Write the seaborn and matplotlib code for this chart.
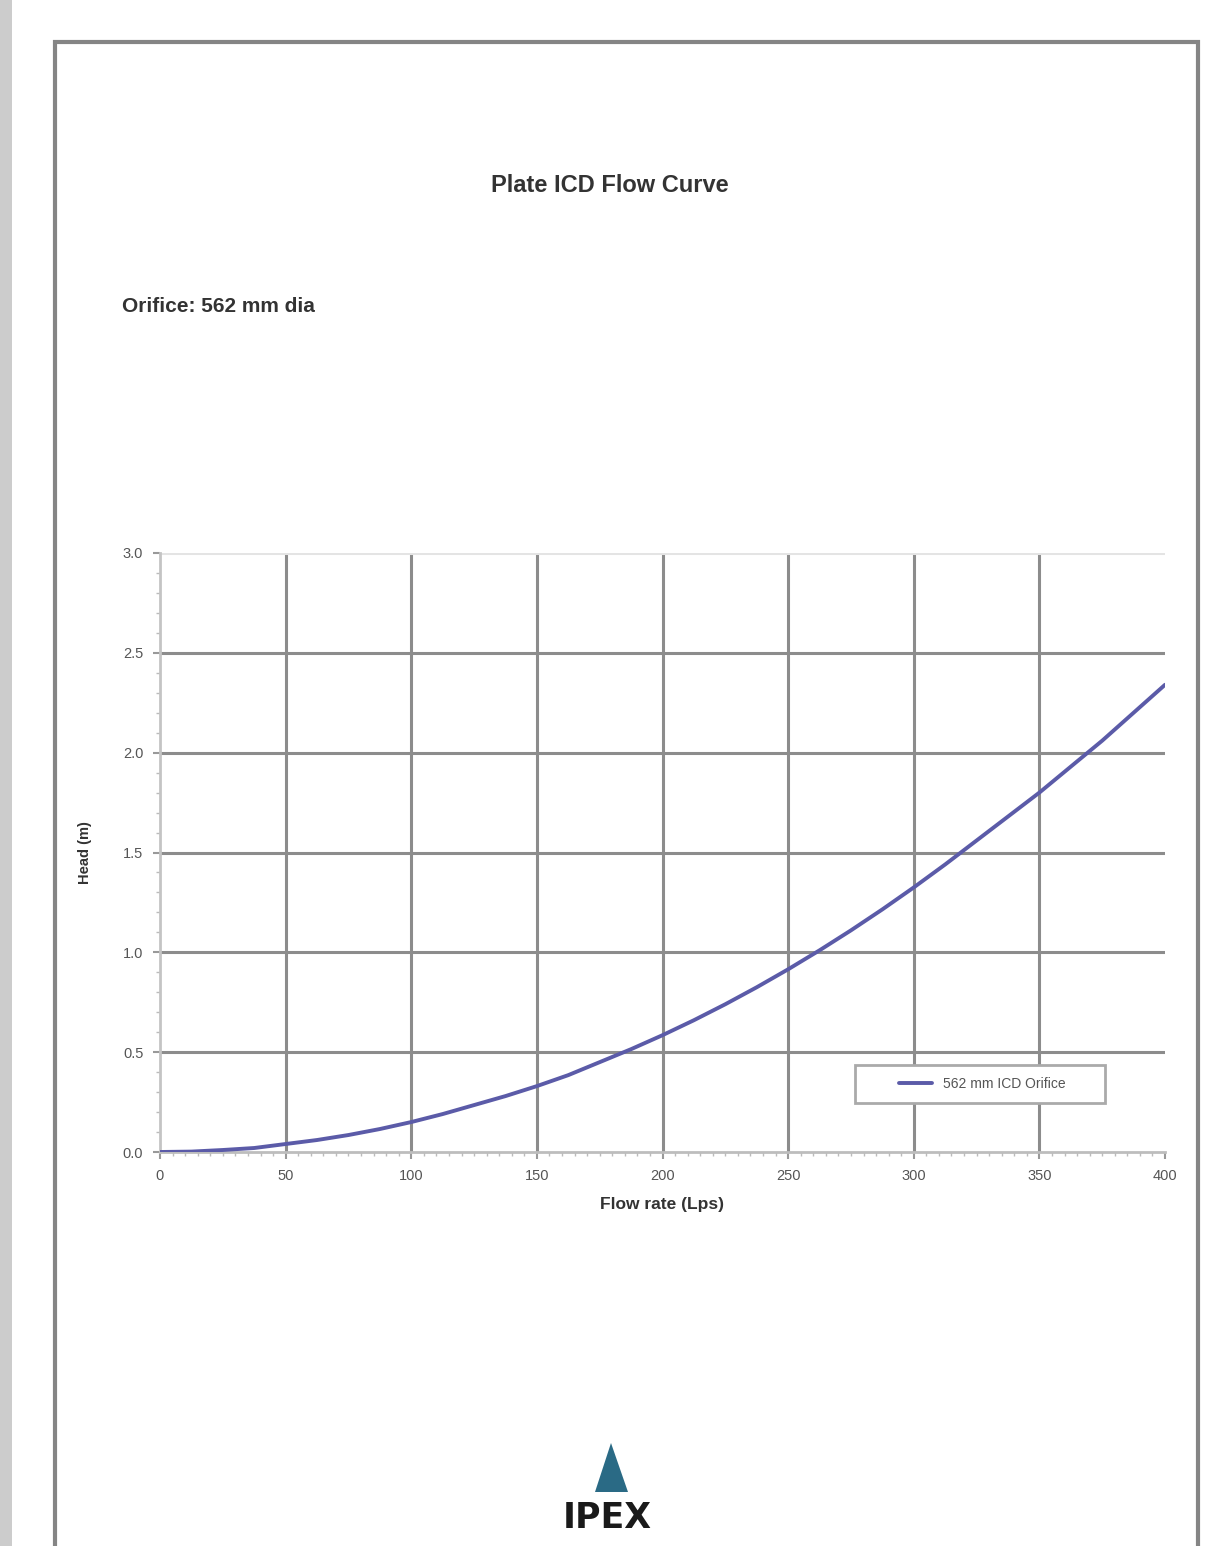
import numpy as np
import pandas as pd
import matplotlib
matplotlib.use('Agg')
import matplotlib.pyplot as plt
import seaborn as sns
from matplotlib.patches import Rectangle, Polygon
from matplotlib.ticker import MultipleLocator

# data
flow_lps = [0, 12.5, 25, 37.5, 50, 62.5, 75, 87.5, 100, 112.5, 125, 137.5, 150, 162.5,
            175, 187.5, 200, 212.5, 225, 237.5, 250, 262.5, 275, 287.5, 300, 312.5,
            325, 337.5, 350, 362.5, 375, 387.5, 400]
head_m = [0.0, 0.002, 0.01, 0.02, 0.04, 0.06, 0.085, 0.115, 0.15, 0.19, 0.235, 0.28, 0.33, 0.385,
          0.45, 0.515, 0.585, 0.66, 0.74, 0.825, 0.915, 1.01, 1.11, 1.215, 1.325, 1.44,
          1.56, 1.68, 1.80, 1.93, 2.06, 2.20, 2.34]
series_name = '562 mm ICD Orifice'
x_ticks = [0, 50, 100, 150, 200, 250, 300, 350, 400]
y_ticks = [0.0, 0.5, 1.0, 1.5, 2.0, 2.5, 3.0]

df = pd.DataFrame({'flow': flow_lps, 'head': head_m, 'series': series_name})

sns.set_theme(style='white')
plt.rcParams['font.family'] = ['Liberation Sans', 'DejaVu Sans']

fig = plt.figure(figsize=(12.1, 15.46), dpi=100)

# page frame and left strip
fig.patches.append(Rectangle((0, 0), 0.010, 1, transform=fig.transFigure,
                             facecolor='#cccccc', edgecolor='none', zorder=0))
fig.patches.append(Rectangle((55 / 1210, -0.01), (1198 - 55) / 1210, 1.01 - 42 / 1546,
                             transform=fig.transFigure, facecolor='none',
                             edgecolor='#858585', lw=3, zorder=0))

ax = fig.add_axes([160 / 1210, 1 - 1152 / 1546, 1005 / 1210, 599 / 1546])
ax.set_facecolor('none')

sns.lineplot(data=df, x='flow', y='head', hue='series', palette=['#5b5ba8'],
             lw=2.8, ax=ax, zorder=3)

ax.set_xlim(0, 400)
ax.set_ylim(0, 3.0)
ax.set_xticks(x_ticks)
ax.set_yticks(y_ticks)
ax.set_xticklabels([str(v) for v in x_ticks])
ax.set_yticklabels([f'{v:.1f}' for v in y_ticks])
ax.xaxis.set_minor_locator(MultipleLocator(5))
ax.yaxis.set_minor_locator(MultipleLocator(0.1))

for v in x_ticks[1:-1]:
    ax.axvline(v, color='#8c8c8c', lw=2.2, zorder=1)
for v in y_ticks[1:]:
    ax.axhline(v, color='#8c8c8c' if v < 3 else '#e4e4e4', lw=2.2, zorder=1)

for s in ['top', 'right']:
    ax.spines[s].set_visible(False)
ax.spines['left'].set_color('#c4c4c4')
ax.spines['left'].set_linewidth(2)
ax.spines['bottom'].set_color('#bdbdbd')
ax.spines['bottom'].set_linewidth(2)

ax.tick_params(axis='both', which='major', direction='out', length=5, width=1.5,
               color='#999999', labelsize=10.5, labelcolor='#555555', pad=7,
               bottom=True, left=True)
ax.tick_params(axis='both', which='minor', direction='out', length=3, width=1,
               color='#bbbbbb', bottom=True, left=True)

ax.set_xlabel('Flow rate (Lps)', fontsize=12.5, fontweight='bold', color='#333333', labelpad=10)
ax.set_ylabel('Head (m)', fontsize=10.5, fontweight='bold', color='#333333', labelpad=22)

# legend box drawn separately so the entry sits centred in a wide frame
ax.add_patch(Rectangle((0.692, 0.082), 0.248, 0.063, transform=ax.transAxes,
                       facecolor='white', edgecolor='#aaaaaa', lw=2, zorder=4))
leg = ax.legend(loc='center', bbox_to_anchor=(0.818, 0.1135), fontsize=10,
                frameon=False, handlelength=2.4, borderaxespad=0)
for t in leg.get_texts():
    t.set_color('#555555')
leg.set_zorder(5)

fig.text(610 / 1210, 1 - 185 / 1546, 'Plate ICD Flow Curve', ha='center', va='center',
         fontsize=17, fontweight='bold', color='#333333')
fig.text(122 / 1210, 1 - 306 / 1546, 'Orifice: 562 mm dia', ha='left', va='center',
         fontsize=15, fontweight='bold', color='#333333')

# logo
fig.patches.append(Polygon([(611 / 1210, 1 - 1443 / 1546), (595 / 1210, 1 - 1492 / 1546),
                            (628 / 1210, 1 - 1492 / 1546)], closed=True,
                           transform=fig.transFigure, facecolor='#2a6a85', edgecolor='none'))
fig.text(607 / 1210, 1 - 1518 / 1546, 'IPEX', ha='center', va='center',
         fontsize=25, fontweight='heavy', family='DejaVu Sans', color='#1a1a1a')

fig.savefig('out.png', dpi=100)
